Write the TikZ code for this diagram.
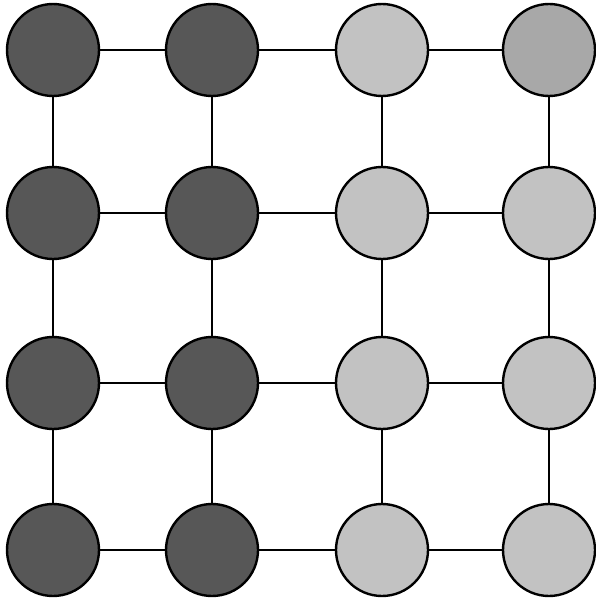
\documentclass[tikz,border=0pt]{standalone}
\begin{document}
\begin{tikzpicture}[x=1pt,y=-1pt,
  cell/.style={circle,draw=black,line width=2.4pt,minimum size=92pt,inner sep=0pt},
  darkcell/.style={cell,fill=black!66},
  lightcell/.style={cell,fill=black!24},
  midcell/.style={cell,fill=black!34},
  link/.style={line width=1.8pt}]
\useasboundingbox (0,0) rectangle (596,599);
\def\xa{53}\def\xb{212}\def\xc{382}\def\xd{549}
\def\ya{50}\def\yb{213}\def\yc{383}\def\yd{550}
% row 1
\node[darkcell] (n11) at (\xa,\ya) {};
\node[darkcell] (n12) at (\xb,\ya) {};
\node[lightcell] (n13) at (\xc,\ya) {};
\node[midcell] (n14) at (\xd,\ya) {};
% row 2
\node[darkcell] (n21) at (\xa,\yb) {};
\node[darkcell] (n22) at (\xb,\yb) {};
\node[lightcell] (n23) at (\xc,\yb) {};
\node[lightcell] (n24) at (\xd,\yb) {};
% row 3
\node[darkcell] (n31) at (\xa,\yc) {};
\node[darkcell] (n32) at (\xb,\yc) {};
\node[lightcell] (n33) at (\xc,\yc) {};
\node[lightcell] (n34) at (\xd,\yc) {};
% row 4
\node[darkcell] (n41) at (\xa,\yd) {};
\node[darkcell] (n42) at (\xb,\yd) {};
\node[lightcell] (n43) at (\xc,\yd) {};
\node[lightcell] (n44) at (\xd,\yd) {};
% horizontal links
\foreach \r in {1,2,3,4}{
  \draw[link] (n\r1) -- (n\r2);
  \draw[link] (n\r2) -- (n\r3);
  \draw[link] (n\r3) -- (n\r4);
}
% vertical links
\foreach \c in {1,2,3,4}{
  \draw[link] (n1\c) -- (n2\c);
  \draw[link] (n2\c) -- (n3\c);
  \draw[link] (n3\c) -- (n4\c);
}
\end{tikzpicture}
\end{document}
